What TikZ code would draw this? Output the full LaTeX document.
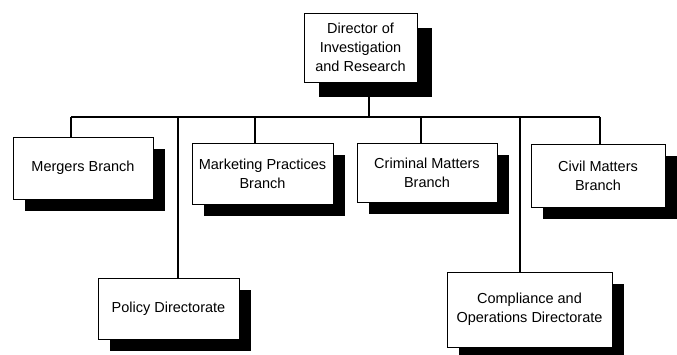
\documentclass[tikz,border=0pt]{standalone}
\usepackage{fontspec}
\setmainfont{Liberation Sans}
\usetikzlibrary{shadows}
\begin{document}
\begin{tikzpicture}[x=1pt,y=-1pt,
  unit box/.style={draw=black, line width=0.8pt, fill=white, inner sep=0pt,
    align=center, font=\fontsize{14.5}{19}\selectfont,
    drop shadow={shadow xshift=#1, shadow yshift=-#1, fill=black, opacity=1}},
  unit box/.default=12pt,
  link/.style={line width=1.4pt}]
\useasboundingbox (0,0) rectangle (677,354);

% organisational units
\node[unit box=15pt, minimum width=113pt, minimum height=69pt] (director) at (360.5,47.5)
  {Director of\\Investigation\\and Research};
\node[unit box, minimum width=140pt, minimum height=62pt] (mergers) at (83,168)
  {Mergers Branch};
\node[unit box, minimum width=141pt, minimum height=61pt] (marketing) at (262.5,173.5)
  {Marketing Practices\\Branch};
\node[unit box, minimum width=140pt, minimum height=59pt] (criminal) at (427,172.5)
  {Criminal Matters\\Branch};
\node[unit box, minimum width=134pt, minimum height=63pt] (civil) at (598,175.5)
  {Civil Matters\\Branch};
\node[unit box, minimum width=141pt, minimum height=61pt] (policy) at (168.5,308.5)
  {Policy Directorate};
\node[unit box, minimum width=165pt, minimum height=75pt] (compliance) at (529.5,309.5)
  {Compliance and\\Operations Directorate};

% junctions on the horizontal bus
\coordinate (jM) at (71,117);
\coordinate (jP) at (178,117);
\coordinate (jK) at (255,117);
\coordinate (jD) at (369,117);
\coordinate (jC) at (421,117);
\coordinate (jO) at (520,117);
\coordinate (jV) at (600,117);

% reporting lines
\draw[link] (jM) -- (jV);
\draw[link] (director.south -| jD) -- (jD);
\draw[link] (jM) -- (jM |- mergers.north);
\draw[link] (jP) -- (jP |- policy.north);
\draw[link] (jK) -- (jK |- marketing.north);
\draw[link] (jC) -- (jC |- criminal.north);
\draw[link] (jO) -- (jO |- compliance.north);
\draw[link] (jV) -- (jV |- civil.north);
\end{tikzpicture}
\end{document}
